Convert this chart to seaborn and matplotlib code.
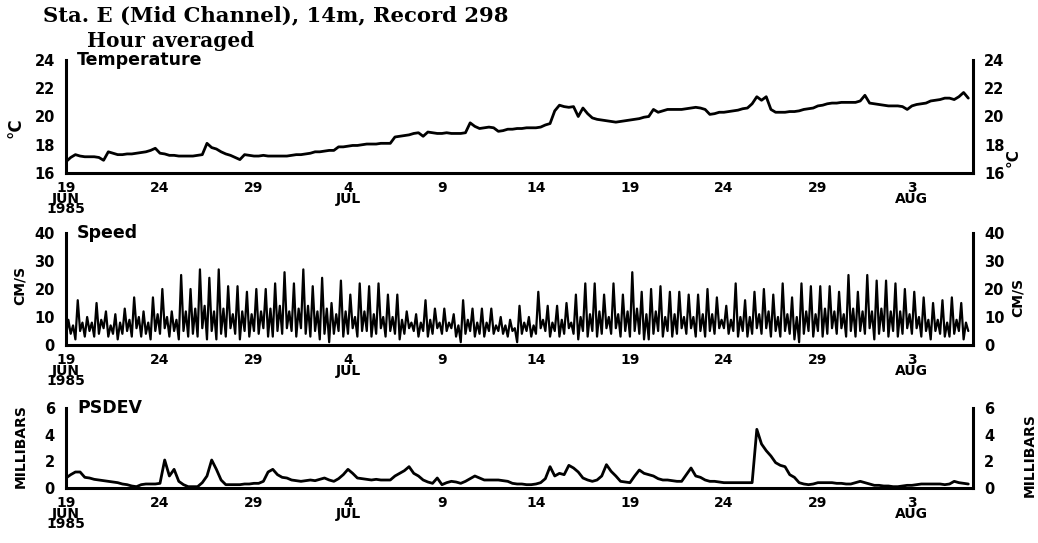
import numpy as np
import pandas as pd
import matplotlib
matplotlib.use("Agg")
import matplotlib.pyplot as plt
import matplotlib.dates as mdates
import seaborn as sns

# Station E (mid channel), 14 m current meter, record 298
START = "1985-06-19"

# Temperature (deg C), 6-hourly from 19 Jun
temperature = [
    16.8, 17.1, 17.3, 17.2,   17.15, 17.15, 17.15, 17.1,  16.9, 17.5, 17.4, 17.3,
    17.3, 17.35, 17.35, 17.4, 17.45, 17.5, 17.6, 17.75,   17.4, 17.35, 17.25, 17.25,
    17.2, 17.2, 17.2, 17.2,   17.25, 17.3, 18.1, 17.8,    17.7, 17.5, 17.35, 17.25,
    17.1, 16.95, 17.3, 17.25, 17.2, 17.2, 17.25, 17.2,    17.2, 17.2, 17.2, 17.2,
    17.25, 17.3, 17.3, 17.35, 17.4, 17.5, 17.5, 17.55,    17.6, 17.6, 17.85, 17.85,
    17.9, 17.95, 17.95, 18.0, 18.05, 18.05, 18.05, 18.1,  18.1, 18.1, 18.55, 18.6,
    18.65, 18.7, 18.8, 18.85, 18.6, 18.9, 18.85, 18.8,    18.8, 18.85, 18.8, 18.8,
    18.8, 18.85, 19.55, 19.3, 19.15, 19.2, 19.25, 19.2,   18.95, 19.0, 19.1, 19.1,
    19.15, 19.15, 19.2, 19.2, 19.2, 19.25, 19.4, 19.5,    20.4, 20.8, 20.7, 20.65,
    20.7, 20.0, 20.6, 20.2,   19.9, 19.8, 19.75, 19.7,    19.65, 19.6, 19.65, 19.7,
    19.75, 19.8, 19.85, 19.95, 20.0, 20.5, 20.3, 20.4,    20.5, 20.5, 20.5, 20.5,
    20.55, 20.6, 20.65, 20.6, 20.5, 20.15, 20.2, 20.3,    20.3, 20.35, 20.4, 20.45,
    20.55, 20.6, 20.9, 21.4,  21.15, 21.4, 20.5, 20.3,    20.3, 20.3, 20.35, 20.35,
    20.4, 20.5, 20.55, 20.6,  20.75, 20.8, 20.9, 20.95,   20.95, 21.0, 21.0, 21.0,
    21.0, 21.1, 21.5, 20.95,  20.9, 20.85, 20.8, 20.75,   20.75, 20.75, 20.7, 20.5,
    20.75, 20.85, 20.9, 20.95, 21.1, 21.15, 21.2, 21.3,   21.3, 21.2, 21.4, 21.7,
    21.3,
]

# Current speed (cm/s), 3-hourly from 19 Jun
speed = [
    3, 9, 4, 7, 2, 16, 5, 8,      3, 10, 5, 8, 3, 15, 4, 9,     6, 12, 3, 7, 4, 11, 2, 8,
    4, 13, 5, 9, 3, 17, 6, 10,    3, 12, 4, 8, 2, 17, 5, 11,    4, 20, 6, 10, 3, 12, 5, 9,
    2, 25, 5, 12, 3, 20, 4, 13,   3, 27, 6, 14, 2, 24, 5, 12,   2, 27, 4, 13, 3, 21, 6, 11,
    4, 21, 2, 12, 5, 19, 3, 11,   5, 20, 4, 12, 6, 20, 3, 13,   3, 22, 5, 14, 4, 26, 6, 12,
    5, 22, 3, 13, 6, 27, 4, 14,   3, 21, 5, 12, 2, 24, 4, 13,   1, 15, 4, 11, 5, 23, 3, 12,
    4, 18, 6, 10, 3, 22, 5, 12,   5, 21, 3, 11, 4, 22, 6, 10,   3, 18, 5, 10, 4, 18, 2, 9,
    4, 12, 6, 8, 5, 11, 3, 8,     5, 16, 3, 9, 4, 13, 6, 8,     4, 13, 5, 8, 6, 11, 3, 7,
    1, 16, 4, 9, 5, 13, 3, 8,     4, 13, 3, 8, 5, 13, 4, 7,     5, 10, 4, 7, 3, 9, 5, 6,
    1, 14, 4, 8, 5, 10, 3, 7,     4, 19, 6, 9, 5, 14, 3, 8,     5, 14, 3, 9, 4, 15, 6, 8,
    4, 18, 2, 10, 5, 22, 3, 11,   5, 22, 3, 12, 4, 18, 6, 10,   4, 22, 6, 11, 3, 18, 5, 12,
    3, 26, 5, 13, 4, 19, 2, 11,   2, 20, 4, 12, 5, 21, 3, 10,   5, 19, 3, 11, 4, 19, 6, 10,
    4, 18, 6, 10, 3, 18, 5, 11,   3, 20, 5, 11, 4, 17, 6, 9,    6, 14, 4, 9, 5, 22, 3, 10,
    5, 16, 3, 10, 4, 19, 6, 11,   4, 20, 6, 12, 3, 18, 5, 10,   3, 22, 5, 11, 4, 17, 2, 10,
    1, 22, 4, 12, 5, 21, 3, 11,   5, 21, 3, 13, 4, 21, 6, 12,   4, 19, 6, 11, 3, 25, 5, 13,
    3, 19, 5, 12, 4, 25, 6, 12,   2, 23, 4, 13, 5, 23, 3, 12,   5, 22, 3, 12, 4, 20, 6, 11,
    4, 19, 6, 10, 3, 17, 5, 9,    2, 15, 5, 9, 4, 16, 3, 8,     3, 17, 4, 9, 5, 15, 2, 8,
    5,
]

# Pressure standard deviation (millibars), 6-hourly from 19 Jun
psdev = [
    0.75, 1.0, 1.2, 1.2,   0.8, 0.75, 0.65, 0.6,   0.55, 0.5, 0.45, 0.4,
    0.3, 0.25, 0.15, 0.1,  0.25, 0.3, 0.3, 0.3,    0.35, 2.1, 0.9, 1.4,
    0.5, 0.25, 0.1, 0.1,   0.1, 0.4, 0.9, 2.1,     1.4, 0.6, 0.25, 0.25,
    0.25, 0.25, 0.3, 0.3,  0.35, 0.35, 0.5, 1.2,   1.4, 1.0, 0.8, 0.75,
    0.6, 0.55, 0.5, 0.55,  0.6, 0.55, 0.65, 0.75,  0.6, 0.5, 0.7, 1.0,
    1.4, 1.1, 0.75, 0.7,   0.65, 0.6, 0.65, 0.6,   0.6, 0.6, 0.9, 1.1,
    1.3, 1.6, 1.1, 0.9,    0.6, 0.45, 0.35, 0.75,  0.25, 0.4, 0.5, 0.45,
    0.35, 0.5, 0.7, 0.9,   0.75, 0.6, 0.6, 0.6,    0.6, 0.55, 0.5, 0.35,
    0.3, 0.3, 0.25, 0.25,  0.3, 0.4, 0.7, 1.6,     0.9, 1.1, 1.0, 1.7,
    1.5, 1.2, 0.75, 0.6,   0.5, 0.6, 0.9, 1.75,    1.25, 0.9, 0.5, 0.45,
    0.4, 0.9, 1.35, 1.1,   1.0, 0.9, 0.7, 0.6,     0.6, 0.55, 0.5, 0.5,
    1.0, 1.5, 0.9, 0.8,    0.6, 0.5, 0.5, 0.45,    0.4, 0.4, 0.4, 0.4,
    0.4, 0.4, 0.4, 4.4,    3.3, 2.8, 2.4, 1.9,     1.7, 1.6, 1.0, 0.8,
    0.4, 0.3, 0.25, 0.3,   0.4, 0.4, 0.4, 0.4,     0.35, 0.35, 0.3, 0.3,
    0.4, 0.5, 0.4, 0.3,    0.2, 0.2, 0.15, 0.15,   0.1, 0.1, 0.15, 0.2,
    0.2, 0.25, 0.3, 0.3,   0.3, 0.3, 0.3, 0.25,    0.3, 0.5, 0.4, 0.35,
    0.3,
]

# Axis labelling
date_ticks = ["1985-06-19", "1985-06-24", "1985-06-29", "1985-07-04", "1985-07-09",
              "1985-07-14", "1985-07-19", "1985-07-24", "1985-07-29", "1985-08-03"]
date_labels = ["19\nJUN\n1985", "24", "29", "4\nJUL", "9",
               "14", "19", "24", "29", "3\nAUG"]
panel_names = ["Temperature", "Speed", "PSDEV"]
unit_labels = ["°C", "CM/S", "MILLIBARS"]
y_ticks = [[16, 18, 20, 22, 24], [0, 10, 20, 30, 40], [0, 2, 4, 6]]

series = [
    pd.DataFrame({"time": pd.date_range(START, periods=len(temperature), freq="6h"),
                  "value": temperature}),
    pd.DataFrame({"time": pd.date_range(START, periods=len(speed), freq="3h"),
                  "value": speed}),
    pd.DataFrame({"time": pd.date_range(START, periods=len(psdev), freq="6h"),
                  "value": psdev}),
]
line_widths = [2.0, 1.6, 2.0]

sns.set_style("white")
plt.rcParams["font.family"] = ["DejaVu Sans"]
plt.rcParams["font.weight"] = "bold"
for key in ["text.color", "axes.labelcolor", "xtick.color", "ytick.color"]:
    plt.rcParams[key] = "black"

fig = plt.figure(figsize=(10.38, 5.43), dpi=100)

W, H = 1038.0, 543.0
x0, x1 = 66, 973
boxes = [(60, 173), (233, 345), (408, 488)]   # top, bottom in pixels
x_end = pd.Timestamp("1985-08-06 06:00")

for name, ticks, (top, bot), df, lw in zip(panel_names, y_ticks, boxes,
                                            series, line_widths):
    ax = fig.add_axes([x0 / W, 1 - bot / H, (x1 - x0) / W, (bot - top) / H])
    sns.lineplot(data=df, x="time", y="value", ax=ax, color="black",
                 linewidth=lw, estimator=None)
    ax.set_xlim(pd.Timestamp(START), x_end)
    ax.set_ylim(ticks[0], ticks[-1])
    ax.set_xlabel("")
    ax.set_ylabel("")

    for side in ["left", "right", "bottom"]:
        ax.spines[side].set_visible(True)
        ax.spines[side].set_color("black")
        ax.spines[side].set_linewidth(2.2)
    ax.spines["top"].set_visible(False)

    ax.set_yticks(ticks)
    ax.set_yticklabels([str(t) for t in ticks], fontsize=10.5, fontweight="bold")
    ax.tick_params(axis="y", length=0, pad=8, labelleft=True, labelright=True)

    ax.set_xticks([pd.Timestamp(d) for d in date_ticks])
    ax.set_xticklabels(date_labels, fontsize=10, fontweight="bold",
                       linespacing=0.68, va="top")
    ax.xaxis.set_minor_locator(mdates.DayLocator())
    ax.tick_params(axis="x", which="major", direction="out", length=3.5, width=2, pad=2.5)
    ax.tick_params(axis="x", which="minor", direction="out", length=3, width=2)

    ax.text(0.012, 1.0, name, transform=ax.transAxes, fontsize=12.5,
            fontweight="bold", va="center", ha="left")

# Unit labels on both sides of each panel
fig.text(16 / W, 1 - 128 / H, unit_labels[0], rotation=90, fontsize=12,
         fontweight="bold", ha="center", va="center")
fig.text(1013 / W, 1 - 158 / H, unit_labels[0], rotation=90, fontsize=11,
         fontweight="bold", ha="center", va="center")
fig.text(20 / W, 1 - 285 / H, unit_labels[1], rotation=90, fontsize=10,
         fontweight="bold", ha="center", va="center")
fig.text(1018 / W, 1 - 297 / H, unit_labels[1], rotation=90, fontsize=10,
         fontweight="bold", ha="center", va="center")
fig.text(21 / W, 1 - 446 / H, unit_labels[2], rotation=90, fontsize=10,
         fontweight="bold", ha="center", va="center")
fig.text(1030 / W, 1 - 455 / H, unit_labels[2], rotation=90, fontsize=10,
         fontweight="bold", ha="center", va="center")

fig.text(43 / W, 1 - 15 / H, "Sta. E (Mid Channel), 14m, Record 298",
         fontsize=15.2, fontweight="bold", family="DejaVu Serif",
         ha="left", va="center")
fig.text(87 / W, 1 - 41 / H, "Hour averaged", fontsize=14.5,
         fontweight="bold", family="DejaVu Serif", ha="left", va="center")

fig.savefig("out.png", dpi=100, facecolor="white")
